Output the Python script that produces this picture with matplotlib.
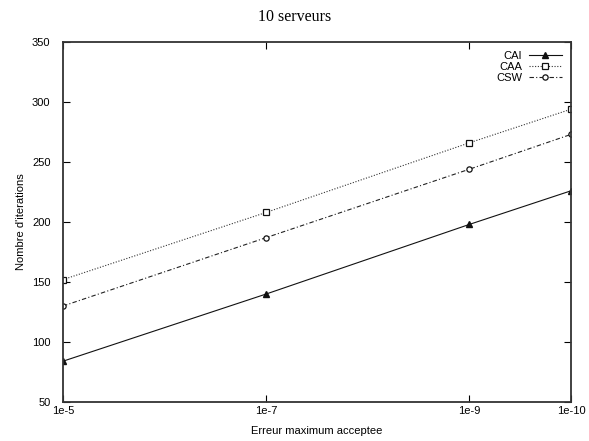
import matplotlib
matplotlib.use("Agg")
import matplotlib.pyplot as plt

errors = [1e-5, 1e-7, 1e-9, 1e-10]
tick_labels = ["1e-5", "1e-7", "1e-9", "1e-10"]
cai = [84, 140, 198, 226]
caa = [152, 208, 266, 294]
csw = [130, 187, 244, 273]

plt.rcParams['font.family'] = ['Liberation Sans', 'DejaVu Sans']

fig = plt.figure(figsize=(5.89, 4.41), dpi=100)
ax = fig.add_axes([63/589, 1 - 402/441, (571-63)/589, (402-42)/441])

ax.plot(errors, cai, color='#111111', lw=0.8, ls='-', marker='^', ms=3.8,
        mfc='#111111', mec='#111111', label='CAI')
ax.plot(errors, caa, color='#333333', lw=0.8, ls=(0, (1, 1.5)), marker='s', ms=3.8,
        mfc='white', mec='#111111', mew=0.9, label='CAA')
ax.plot(errors, csw, color='#222222', lw=0.8, ls=(0, (4, 2, 1, 2)), marker='o', ms=3.8,
        mfc='white', mec='#111111', mew=0.9, label='CSW')

ax.set_xscale('log')
ax.set_xlim(1e-5, 1e-10)
ax.set_xticks(errors)
ax.set_xticklabels(tick_labels)
ax.minorticks_off()
ax.set_ylim(50, 350)
ax.set_yticks(range(50, 351, 50))

ax.tick_params(direction='in', top=True, right=True, length=5, width=0.8,
               labelsize=8, colors='black')
ax.tick_params(axis='y', pad=9)
ax.tick_params(axis='x', pad=3)
for s in ax.spines.values():
    s.set_linewidth(1.3)
    s.set_color('#333333')

ax.set_xlabel('Erreur maximum acceptee', fontsize=8, labelpad=7)
ax.set_ylabel("Nombre d'iterations", fontsize=8, labelpad=4)
fig.text(0.5, 1 - 17/441, '10 serveurs', ha='center', va='center',
         fontsize=11.5, family=['Liberation Serif'])

leg = ax.legend(loc='upper right', markerfirst=False, frameon=False, fontsize=8,
                handlelength=3, handletextpad=0.6, labelspacing=0.1,
                borderaxespad=0.4)
for t in leg.get_texts():
    t.set_ha('right')

fig.savefig('out.png', dpi=100)
